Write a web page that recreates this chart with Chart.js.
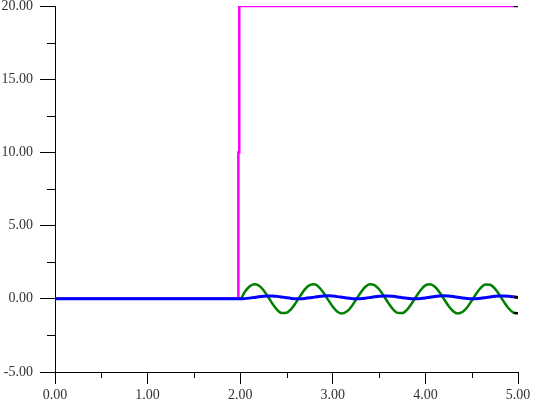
<!DOCTYPE html>
<html>
<head>
<meta charset="utf-8">
<script src="https://cdn.jsdelivr.net/npm/chart.js@4/dist/chart.umd.min.js"></script>
<style>
  html, body { margin: 0; padding: 0; background: #fff; }
  #chart { display: block; }
</style>
</head>
<body>
<canvas id="chart" width="537" height="410"></canvas>
<script>
// sample times (s)
const timeSteps = [
  0.00, 2.00, 2.05, 2.10, 2.15, 2.20, 2.25, 2.30, 2.35, 2.40, 2.45,
  2.50, 2.55, 2.60, 2.65, 2.70, 2.75, 2.80, 2.85, 2.90, 2.95,
  3.00, 3.05, 3.10, 3.15, 3.20, 3.25, 3.30, 3.35, 3.40, 3.45,
  3.50, 3.55, 3.60, 3.65, 3.70, 3.75, 3.80, 3.85, 3.90, 3.95,
  4.00, 4.05, 4.10, 4.15, 4.20, 4.25, 4.30, 4.35, 4.40, 4.45,
  4.50, 4.55, 4.60, 4.65, 4.70, 4.75, 4.80, 4.85, 4.90, 4.95, 5.00
];

// green trace
const greenValues = [
  0, 0, 0.479, 0.841, 0.997, 0.909, 0.598, 0.141, -0.351, -0.757, -0.978,
  -0.959, -0.706, -0.279, 0.215, 0.657, 0.938, 0.989, 0.798, 0.412, -0.075,
  -0.544, -0.880, -1.000, -0.875, -0.537, -0.066, 0.420, 0.804, 0.991, 0.935,
  0.650, 0.207, -0.288, -0.713, -0.961, -0.976, -0.751, -0.342, 0.150, 0.605,
  0.913, 0.997, 0.837, 0.472, -0.009, -0.487, -0.846, -0.998, -0.906, -0.591,
  -0.132, 0.359, 0.763, 0.980, 0.956, 0.700, 0.271, -0.224, -0.664, -0.941, -0.988
];

// blue trace
const blueValues = [
  0, 0, 0.012, 0.046, 0.093, 0.142, 0.180, 0.199, 0.194, 0.165, 0.121,
  0.072, 0.029, 0.004, 0.002, 0.025, 0.065, 0.115, 0.160, 0.191, 0.200,
  0.184, 0.148, 0.100, 0.052, 0.016, 0.000, 0.009, 0.041, 0.086, 0.136,
  0.176, 0.198, 0.196, 0.170, 0.128, 0.078, 0.034, 0.006, 0.001, 0.020,
  0.059, 0.108, 0.155, 0.188, 0.200, 0.187, 0.153, 0.106, 0.058, 0.019,
  0.001, 0.007, 0.035, 0.080, 0.129, 0.172, 0.196, 0.198, 0.175, 0.134, 0.085
];

// magenta step
const stepTimes = [0.00, 1.98, 1.98, 1.99, 1.99, 4.95, 5.00];
const stepValues = [0, 0, 10, 10, 20, 20, 20];

const xTickMin = 0, xTickMax = 5, xTickStep = 1;
const yTickMin = -5, yTickMax = 20, yTickStep = 5;

function toPoints(xs, ys) {
    return xs.map((x, i) => ({ x: x, y: ys[i] }));
}

// last segment of every trace is drawn black
function lastSegmentBlack(n) {
    return {
        borderColor: (c) => c.p1DataIndex === n - 1 ? '#000000' : undefined
    };
}

const minorTicks = {
    id: 'minorTicks',
    afterDraw: (chart) => {
        const c = chart.ctx;
        const xs = chart.scales.x;
        const ys = chart.scales.y;
        c.save();
        c.strokeStyle = '#000';
        c.lineWidth = 1;
        c.beginPath();
        for (let v = xTickMin + xTickStep / 2; v < xTickMax; v += xTickStep) {
            const px = Math.round(xs.getPixelForValue(v)) + 0.5;
            c.moveTo(px, ys.bottom);
            c.lineTo(px, ys.bottom + 6);
        }
        for (let v = yTickMin + yTickStep / 2; v < yTickMax; v += yTickStep) {
            const py = Math.round(ys.getPixelForValue(v)) + 0.5;
            c.moveTo(xs.left - 8, py);
            c.lineTo(xs.left, py);
        }
        c.stroke();
        c.restore();
    }
};

const font = { family: "'Liberation Serif', 'DejaVu Serif', serif", size: 14, lineHeight: 1 };

const ctx = document.querySelector('#chart').getContext('2d');
const chart = new Chart(ctx, {
    type: 'line',
    data: {
        datasets: [
            {
                label: 'blue',
                data: toPoints(timeSteps, blueValues),
                borderColor: '#0000ff',
                borderWidth: 3,
                pointRadius: 0,
                cubicInterpolationMode: 'monotone',
                segment: lastSegmentBlack(timeSteps.length)
            },
            {
                label: 'magenta',
                data: toPoints(stepTimes, stepValues),
                borderColor: '#ff00ff',
                borderWidth: 2.5,
                pointRadius: 0,
                tension: 0,
                segment: lastSegmentBlack(stepTimes.length)
            },
            {
                label: 'green',
                data: toPoints(timeSteps, greenValues),
                borderColor: '#008000',
                borderWidth: 2.5,
                pointRadius: 0,
                cubicInterpolationMode: 'monotone',
                segment: lastSegmentBlack(timeSteps.length)
            }
        ]
    },
    options: {
        responsive: false,
        animation: false,
        devicePixelRatio: 1,
        layout: { padding: { top: 6, right: 19, left: 0, bottom: 0 } },
        plugins: {
            legend: { display: false },
            tooltip: { enabled: false }
        },
        scales: {
            x: {
                type: 'linear',
                min: xTickMin,
                max: xTickMax,
                border: { display: true, color: '#000', width: 1 },
                grid: { drawOnChartArea: false, tickLength: 12, tickColor: '#000', tickWidth: 1 },
                ticks: {
                    stepSize: xTickStep,
                    color: '#333',
                    font: font,
                    padding: 4,
                    maxRotation: 0,
                    callback: (v) => Number(v).toFixed(2)
                },
                afterFit: (s) => {
                    s.height = 38;
                    s.paddingLeft = 0;
                    s.paddingRight = 0;
                }
            },
            y: {
                type: 'linear',
                min: yTickMin,
                max: yTickMax,
                border: { display: true, color: '#000', width: 1 },
                grid: { drawOnChartArea: false, tickLength: 15, tickColor: '#000', tickWidth: 1 },
                ticks: {
                    stepSize: yTickStep,
                    color: '#333',
                    font: font,
                    padding: 7,
                    callback: (v) => Number(v).toFixed(2)
                },
                afterFit: (s) => {
                    s.width = 55;
                    s.paddingTop = 0;
                    s.paddingBottom = 0;
                }
            }
        }
    },
    plugins: [minorTicks]
});
</script>
</body>
</html>
